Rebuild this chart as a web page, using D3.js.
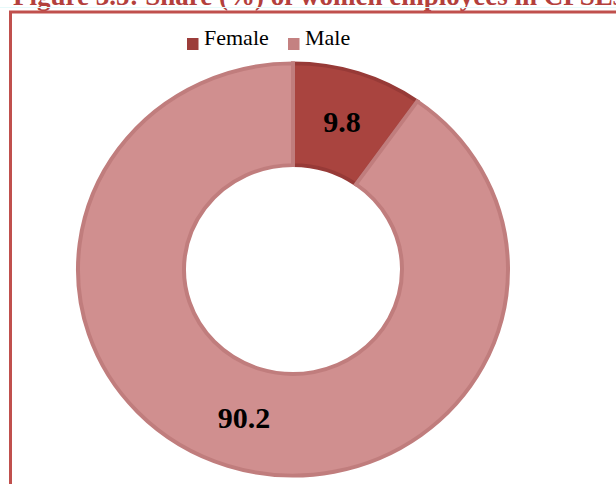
<!DOCTYPE html>
<html>
<head>
<meta charset="utf-8">
<script src="https://cdn.jsdelivr.net/npm/d3@7"></script>
<style>
  html, body { margin: 0; padding: 0; background: #fff; }
  svg { display: block; }
</style>
</head>
<body>
<svg id="chart" width="616" height="484"></svg>
<script>
// Share (%) of women employees in CPSEs
const categories = ["Female", "Male"];
const shares = [9.8, 90.2];
const fills = ["#a9443f", "#d08f8f"];
const strokes = ["#973a37", "#c07d7d"];
const swatches = ["#9c3d3a", "#c48181"];

const svg = d3.select("#chart");
const W = 616, H = 484;

// Figure caption (runs off the top edge of the page crop)
svg.append("text")
  .attr("x", 13).attr("y", 4.5)
  .attr("font-family", "Liberation Serif, Times New Roman, serif")
  .attr("font-weight", "bold")
  .attr("font-size", 27)
  .attr("fill", "#b3403c")
  .text("Figure 3.5: Share (%) of women employees in CPSEs");

svg.append("line")
  .attr("x1", 0).attr("x2", W).attr("y1", 7.5).attr("y2", 7.5)
  .attr("stroke", "#e6fafa").attr("stroke-width", 1);

// Chart frame
svg.append("rect")
  .attr("x", 10.5).attr("y", 12).attr("width", 640).attr("height", 500)
  .attr("fill", "none")
  .attr("stroke", "#c0504d")
  .attr("stroke-width", 3);

// Legend
const legend = svg.append("g");
const legendItems = [
  { x: 187, label: categories[0], c: swatches[0] },
  { x: 288, label: categories[1], c: swatches[1] }
];
legendItems.forEach(d => {
  legend.append("rect")
    .attr("x", d.x).attr("y", 38).attr("width", 11.5).attr("height", 12)
    .attr("fill", d.c);
  legend.append("text")
    .attr("x", d.x + 17).attr("y", 45)
    .attr("font-family", "Liberation Serif, Times New Roman, serif")
    .attr("font-size", 22)
    .attr("fill", "#000")
    .text(d.label);
});

// Donut
const cx = 293, cy = 269.5;
const rOuter = 215, rInner = 109;
const squash = 207 / 216;

const pie = d3.pie().sort(null).value(d => d)(shares);
const arc = d3.arc().innerRadius(rInner).outerRadius(rOuter);

const ring = svg.append("g")
  .attr("transform", `translate(${cx},${cy}) scale(1,${squash})`);

ring.selectAll("path")
  .data(pie)
  .join("path")
  .attr("d", arc)
  .attr("fill", (d, i) => fills[i])
  .attr("stroke", (d, i) => strokes[i])
  .attr("stroke-width", 4)
  .attr("stroke-linejoin", "miter");

// Value labels at the ring centroids
svg.append("g").selectAll("text")
  .data(pie)
  .join("text")
  .attr("x", d => cx + arc.centroid(d)[0])
  .attr("y", d => cy + arc.centroid(d)[1] * squash)
  .attr("dy", "0.35em")
  .attr("text-anchor", "middle")
  .attr("font-family", "Liberation Serif, Times New Roman, serif")
  .attr("font-weight", "bold")
  .attr("font-size", 30)
  .attr("fill", "#000")
  .text(d => d.data.toFixed(1));
</script>
</body>
</html>
